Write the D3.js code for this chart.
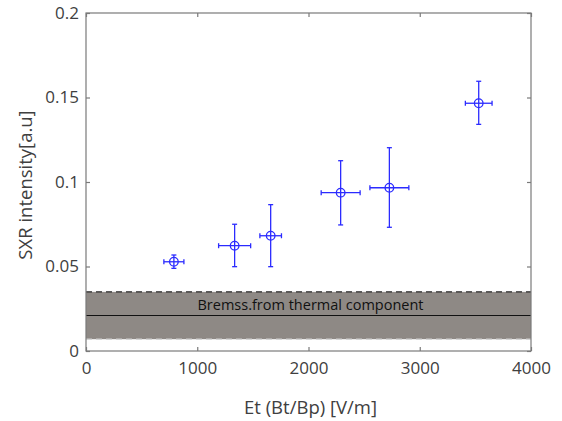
<!DOCTYPE html>
<html><head><meta charset="utf-8">
<script src="https://cdn.jsdelivr.net/npm/d3@7"></script>
<style>body{margin:0;background:#fff;} svg{display:block;}</style>
</head><body>
<script>
const xVals = [790, 1336, 1660, 2289, 2727, 3530];
const yVals = [0.0528, 0.0623, 0.0682, 0.0937, 0.0966, 0.1466];
const yLow  = [0.0489, 0.0499, 0.0499, 0.0746, 0.0732, 0.1341];
const yHigh = [0.0568, 0.0750, 0.0866, 0.1126, 0.1203, 0.1596];
const xErr  = [90, 144, 97, 175, 175, 120];
const bandLow = 0.007, bandMid = 0.021, bandHigh = 0.035;
const bandLabel = "Bremss.from thermal component";
const xTicks = [0, 1000, 2000, 3000, 4000];
const yTicks = [0, 0.05, 0.1, 0.15, 0.2];
const xLabel = "Et (Bt/Bp) [V/m]";
const yLabel = "SXR intensity[a.u]";

const W = 562, H = 421;
const m = {l: 86, r: 31, t: 13, b: 70};
const svg = d3.select("body").append("svg").attr("width", W).attr("height", H);
const x = d3.scaleLinear().domain([0, 4000]).range([m.l, W - m.r]);
const y = d3.scaleLinear().domain([0, 0.2]).range([H - m.b, m.t]);
const font = "'Open Sans', sans-serif";
const axisCol = "#7a7a7a", textCol = "#404040";

// band
svg.append("rect").attr("x", x(0)).attr("width", x(4000) - x(0))
  .attr("y", y(bandHigh)).attr("height", y(bandLow) - y(bandHigh)).attr("fill", "#8e8985");
svg.append("line").attr("x1", x(0)).attr("x2", x(4000)).attr("y1", y(bandHigh)).attr("y2", y(bandHigh))
  .attr("stroke", "#2a2a2a").attr("stroke-width", 1.2).attr("stroke-dasharray", "6,4");
svg.append("line").attr("x1", x(0)).attr("x2", x(4000)).attr("y1", y(bandLow)).attr("y2", y(bandLow))
  .attr("stroke", "#cfcfcf").attr("stroke-width", 1.2).attr("stroke-dasharray", "6,4");
svg.append("line").attr("x1", x(0)).attr("x2", x(4000)).attr("y1", y(bandMid)).attr("y2", y(bandMid))
  .attr("stroke", "#111").attr("stroke-width", 1);
svg.append("text").attr("x", x(2000) + 2).attr("y", y(bandHigh) + 18).attr("text-anchor", "middle")
  .attr("font-family", font).attr("font-size", 14.5).attr("fill", "#111").text(bandLabel);

// axes box
const g = svg.append("g");
g.append("rect").attr("x", x(0)).attr("y", y(0.2)).attr("width", x(4000) - x(0)).attr("height", y(0) - y(0.2))
  .attr("fill", "none").attr("stroke", axisCol).attr("stroke-width", 1.2);
const xb = svg.append("g").attr("transform", `translate(0,${y(0)})`)
  .call(d3.axisBottom(x).tickValues(xTicks).tickSize(-4).tickPadding(9).tickFormat(d3.format("d")));
const xt = svg.append("g").attr("transform", `translate(0,${y(0.2)})`)
  .call(d3.axisTop(x).tickValues(xTicks).tickSize(-4).tickFormat(""));
const yl = svg.append("g").attr("transform", `translate(${x(0)},0)`)
  .call(d3.axisLeft(y).tickValues(yTicks).tickSize(-4).tickPadding(7).tickFormat(d => d === 0 ? "0" : String(+d.toFixed(2))));
const yr = svg.append("g").attr("transform", `translate(${x(4000)},0)`)
  .call(d3.axisRight(y).tickValues(yTicks).tickSize(-4).tickFormat(""));
[xb, xt, yl, yr].forEach(a => {
  a.select(".domain").remove();
  a.selectAll("line").attr("stroke", axisCol).attr("stroke-width", 1.2);
  a.selectAll("text").attr("font-family", font).attr("font-size", 17).attr("fill", textCol);
});
xb.selectAll("text").attr("dy", "0.85em");

svg.append("text").attr("x", x(2000) + 2).attr("y", 414).attr("text-anchor", "middle")
  .attr("font-family", font).attr("font-size", 18.5).attr("fill", textCol).text(xLabel);
svg.append("text").attr("transform", `translate(32,185)rotate(-90)`).attr("text-anchor", "middle")
  .attr("font-family", font).attr("font-size", 18.5).attr("fill", textCol).text(yLabel);

// data
const blue = "#2b2bff";
const pts = xVals.map((v, i) => ({x: v, y: yVals[i], lo: yLow[i], hi: yHigh[i], xe: xErr[i]}));
const pg = svg.append("g").attr("stroke", blue).attr("fill", "none").attr("stroke-width", 1.3);
pts.forEach(p => {
  const cx = x(p.x), cy = y(p.y);
  pg.append("line").attr("x1", cx).attr("x2", cx).attr("y1", y(p.lo)).attr("y2", y(p.hi));
  pg.append("line").attr("x1", cx - 2.5).attr("x2", cx + 2.5).attr("y1", y(p.lo)).attr("y2", y(p.lo));
  pg.append("line").attr("x1", cx - 2.5).attr("x2", cx + 2.5).attr("y1", y(p.hi)).attr("y2", y(p.hi));
  pg.append("line").attr("x1", x(p.x - p.xe)).attr("x2", x(p.x + p.xe)).attr("y1", cy).attr("y2", cy);
  pg.append("line").attr("x1", x(p.x - p.xe)).attr("x2", x(p.x - p.xe)).attr("y1", cy - 2.5).attr("y2", cy + 2.5);
  pg.append("line").attr("x1", x(p.x + p.xe)).attr("x2", x(p.x + p.xe)).attr("y1", cy - 2.5).attr("y2", cy + 2.5);
  pg.append("circle").attr("cx", cx).attr("cy", cy).attr("r", 4.3);
});
</script>
</body></html>
